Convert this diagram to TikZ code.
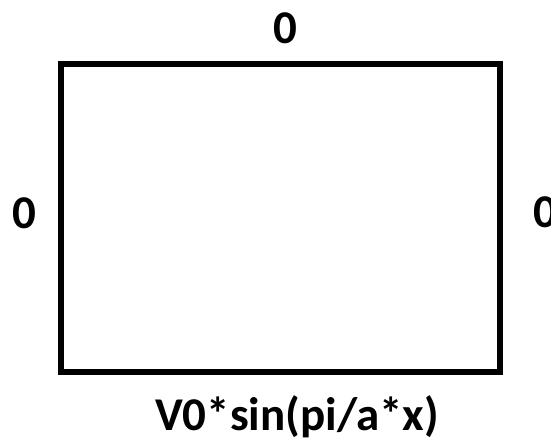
\documentclass[tikz,border=0pt]{standalone}
\usepackage{fontspec}
\setmainfont{Carlito}
\usepackage{tikz}

\begin{document}
\begin{tikzpicture}[x=1pt, y=-1pt,
		bclabel/.style={font=\fontsize{47}{47}\selectfont\bfseries, inner sep=0pt}]
				\useasboundingbox (0,0) rectangle (551,442);
				%
				\draw [black, line width=6.5pt] (61,64) -- (500,64) -- (500,372) -- (61,372) -- cycle;
				%
				\node [bclabel] (top)    at (285,28)  {0};
				\node [bclabel] (left)   at (24,213)  {0};
				\node [bclabel, anchor=west] (right) at (533,212) {0};
				\node [bclabel, anchor=base] (bottom) at (297,430) {V0*sin(pi/a*x)};
		
			\end{tikzpicture}
\end{document}
